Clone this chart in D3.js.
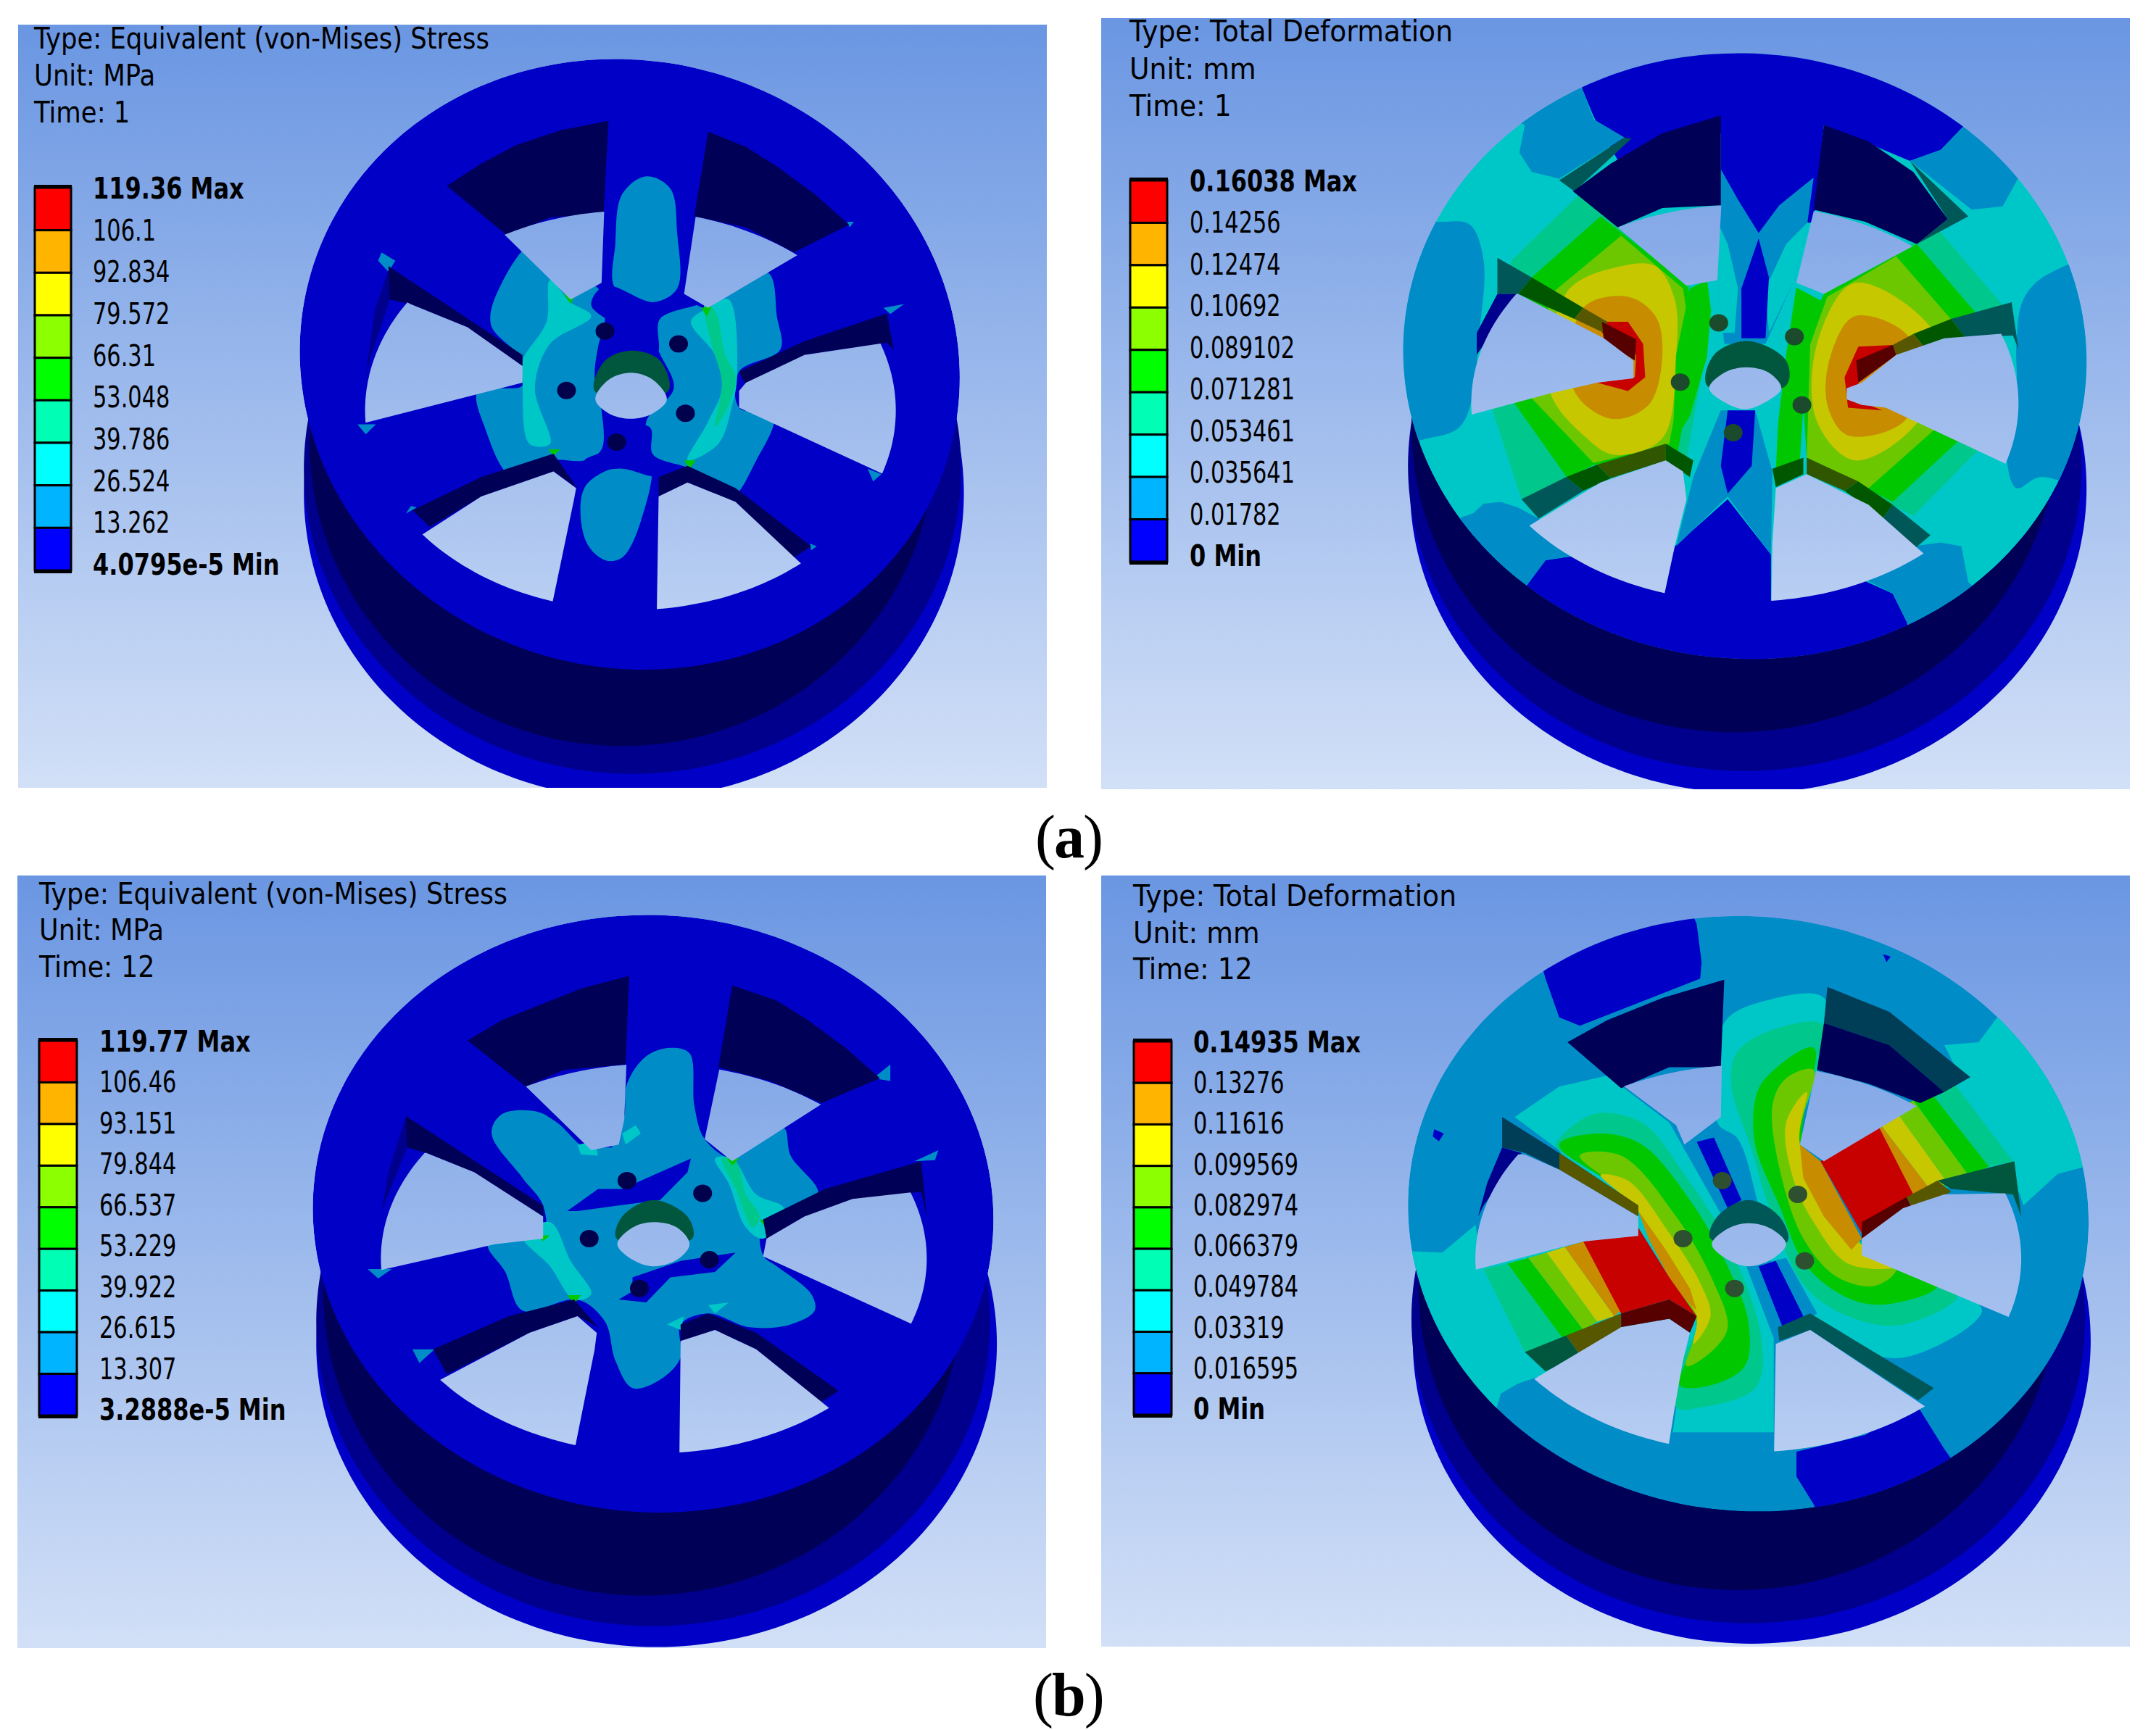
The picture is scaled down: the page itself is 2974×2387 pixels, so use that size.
<!DOCTYPE html>
<html>
<head>
<meta charset="UTF-8">
<title>Wheel stress and deformation</title>
<script src="https://cdnjs.cloudflare.com/ajax/libs/d3/7.8.5/d3.min.js"></script>
<style>
html, body { margin: 0; background: #fff; }
svg { display: block; }
text { font-family: "DejaVu Sans", sans-serif; fill: #000; }
</style>
</head>
<body>
<svg id="chart" width="2974" height="2387"></svg>
<script>
// legend colours, low to high
var bandColors = ['#0000ff', '#00b4ff', '#00ffff', '#00ffb4', '#00ff00', '#8cff00', '#ffff00', '#ffb400', '#ff0000'];

// legend labels per panel, top to bottom
var ticksStressA = ['119.36 Max', '106.1', '92.834', '79.572', '66.31', '53.048', '39.786', '26.524', '13.262', '4.0795e-5 Min'];
var ticksDeformA = ['0.16038 Max', '0.14256', '0.12474', '0.10692', '0.089102', '0.071281', '0.053461', '0.035641', '0.01782', '0 Min'];
var ticksStressB = ['119.77 Max', '106.46', '93.151', '79.844', '66.537', '53.229', '39.922', '26.615', '13.307', '3.2888e-5 Min'];
var ticksDeformB = ['0.14935 Max', '0.13276', '0.11616', '0.099569', '0.082974', '0.066379', '0.049784', '0.03319', '0.016595', '0 Min'];

var headStressA = ['Type: Equivalent (von-Mises) Stress', 'Unit: MPa', 'Time: 1'];
var headDeformA = ['Type: Total Deformation', 'Unit: mm', 'Time: 1'];
var headStressB = ['Type: Equivalent (von-Mises) Stress', 'Unit: MPa', 'Time: 12'];
var headDeformB = ['Type: Total Deformation', 'Unit: mm', 'Time: 12'];

// traced outlines, in 1568-square view units of each panel
// each layer: band index (or BG for see-through), shade, points, flag (1 smooth, 2 cut by the back rim)
var BG = -1, F = 0.78, W = 0.34, M = 0.55;

// barrel ellipses cx, cy, rx, ry: outer, lip, inner
var barrelStressA = [[922,890,480,550], [920,845,478,550], [905,795,455,550]];
var barrelDeformA = [[975,880,492,550], [970,840,490,550], [955,770,470,550]];
var barrelStressB = [[955,870,495,548], [950,830,490,550], [935,775,465,550]];
var barrelDeformB = [[980,865,493,547], [975,825,490,550], [960,765,465,550]];

// front face ellipse cx, cy, rx, ry, skew, base band
var faceStressA = [916,657,480,550,0.05,0];
var faceDeformA = [970,642,497,546,0.02,2];
var faceStressB = [950,635,495,540,0.02,0];
var faceDeformB = [975,635,495,538,0.03,1];

// back rim ellipse seen through the windows
var rimStressA = [917,740,386,360];
var rimDeformA = [970,727,398,358];
var rimStressB = [951,716,397,352];
var rimDeformB = [975,716,397,350];

var layersStressA = [
  // hub contour
  [1, F, [[775,440],[810,490],[870,520],[880,575],[870,625],[865,680],[875,740],[875,810],[850,830],[800,830],[745,860],[705,770],[695,705],[760,695],[760,650],[714,585],[730,510]], 1],
  [1, F, [[1090,480],[1120,495],[1130,570],[1135,630],[1075,670],[1075,735],[1125,750],[1100,830],[1060,900],[1000,850],[950,820],[940,760],[980,700],[955,620],[960,570],[1000,545],[1030,555]], 1],
  [1, F, [[940,318],[975,340],[985,420],[985,520],[950,545],[895,520],[895,440],[905,350]], 1],
  [1, F, [[900,840],[945,835],[932,940],[905,1005],[880,1010],[852,975],[850,880]], 1],
  [2, F, [[800,505],[830,545],[860,570],[800,620],[778,700],[800,800],[770,800],[760,690],[760,650],[795,580]], 1],
  [2, F, [[1030,555],[1060,540],[1072,680],[1065,730],[1045,800],[1000,830],[1030,760],[1050,700],[1040,640],[1005,580]], 1],
  [3, F, [[1025,550],[1040,560],[1055,640],[1070,680],[1060,730],[1040,770],[1050,690],[1035,620]], 1],
  [0, F, [[880,515],[950,545],[990,530],[1020,545],[960,575],[955,640],[890,630],[905,600],[860,550]], 1],
  [0, F, [[880,775],[945,770],[950,820],[1000,845],[958,860],[905,845],[850,850],[850,830],[880,810]], 1],
  [4, F, [[820,530],[835,535],[830,548]]],
  [4, F, [[1020,555],[1035,552],[1028,570]]],
  [4, F, [[798,810],[815,810],[805,822]]],
  [4, F, [[995,830],[1012,830],[1003,845]]],
  // spots at the spoke tips
  [1, F, [[555,455],[575,470],[565,490],[550,470]]],
  [1, F, [[520,765],[547,765],[532,783]]],
  [1, F, [[1285,555],[1315,548],[1295,566]]],
  [1, F, [[1262,845],[1282,855],[1270,868]]],
  [1, F, [[1232,400],[1242,400],[1236,410]]],
  [1, F, [[1178,980],[1188,985],[1180,992]]],
  [1, F, [[598,912],[606,915],[590,926]]],
  // walls and windows
  [0, W, [[650,335],[700,295],[750,262],[815,235],[885,218],[878,385],[800,392],[738,425]]],
  [BG, 1, [[700,382],[740,340],[880,340],[875,510],[830,540]], 2],
  [0, W, [[1030,237],[1085,265],[1130,300],[1185,350],[1235,405],[1155,455],[1085,410],[1010,390]]],
  [BG, 1, [[1018,340],[1150,340],[1190,438],[1030,555],[995,530]], 2],
  [0, W, [[1290,565],[1300,630],[1290,618],[1170,640],[1085,695],[1075,670],[1170,615]]],
  [BG, 1, [[1075,705],[1085,690],[1170,640],[1320,612],[1340,700],[1320,875],[1075,735]], 2],
  [0, W, [[1000,840],[1070,880],[1180,985],[1155,1005],[1070,905],[1000,870],[958,895],[958,860]]],
  [BG, 1, [[958,895],[1000,870],[1070,905],[1190,1045],[1100,1130],[955,1130]], 2],
  [0, W, [[600,920],[700,860],[805,818],[840,880],[805,850],[700,895],[625,950]]],
  [BG, 1, [[600,975],[700,895],[805,850],[838,880],[835,900],[798,1120],[650,1060]], 2],
  [0, M, [[567,480],[567,540],[540,640],[532,680],[545,560]]],
  [0, W, [[565,480],[760,640],[760,660],[680,590],[597,548],[567,540]]],
  [BG, 1, [[570,530],[597,548],[680,590],[760,660],[760,690],[538,760],[480,778],[480,600]], 2],
  // centre bore and hole
  [3, W, [[865,705],[880,650],[920,632],[960,650],[972,705]], 1],
  [BG, 1, [[866,720],[885,685],[918,672],[950,685],[970,720],[950,745],[918,755],[885,745]], 1]
];
var boltsStressA = [[880,597],[987,620],[997,745],[897,797],[824,704]];

var layersDeformA = [
  // outer caps
  [0, F, [[735,165],[700,60],[975,40],[1250,100],[1290,225],[1255,270],[1210,290],[1085,225],[1070,400],[990,420],[935,350],[935,240],[850,270],[790,300],[750,210]]],
  [0, F, [[650,1060],[680,1010],[735,1000],[850,1065],[868,985],[945,900],[1008,1000],[1008,1083],[1140,1045],[1185,1070],[1205,1120],[1240,1240],[960,1250],[650,1180]]],
  [1, F, [[700,100],[735,165],[750,215],[795,248],[700,322],[660,310],[642,275],[650,225],[600,200]]],
  [1, F, [[1290,225],[1255,270],[1210,290],[1300,378],[1345,372],[1368,320],[1440,280],[1340,150]]],
  [1, F, [[420,800],[510,790],[555,770],[575,710],[582,620],[590,470],[570,405],[530,400],[440,420]], 1],
  [1, F, [[1540,460],[1410,495],[1375,540],[1365,620],[1365,700],[1350,810],[1365,880],[1400,860],[1540,900]], 1],
  [1, F, [[575,925],[590,908],[615,905],[640,915],[670,935],[730,1000],[680,1010],[650,1060],[560,1090],[520,950]]],
  [1, F, [[1145,1045],[1180,1005],[1215,985],[1255,978],[1285,985],[1295,1050],[1380,1130],[1240,1200],[1205,1120],[1185,1070]]],
  // hub base
  [2, F, [[890,515],[1085,540],[1060,830],[885,830]]],
  // left hot spot, nested
  [3, F, [[630,470],[730,350],[890,515],[915,620],[885,830],[720,860],[645,900],[603,740]]],
  [4, F, [[660,500],[760,390],[885,510],[905,600],[870,830],[750,838],[712,862],[635,727]]],
  [5, F, [[688,530],[790,425],[880,520],[890,600],[860,800],[750,835],[660,718]]],
  [6, F, [[712,525],[790,480],[840,480],[868,540],[870,640],[850,790],[780,820],[740,790],[685,700]], 1],
  [7, F, [[735,555],[800,535],[840,570],[850,640],[830,730],[775,755],[720,700]], 1],
  [8, F, [[762,580],[800,580],[822,620],[825,680],[800,705],[755,690],[810,680],[812,640],[762,600]]],
  // right hot spot, nested
  [3, F, [[1250,412],[1345,550],[1310,810],[1215,930],[1060,830],[1050,620],[1085,530]]],
  [4, F, [[1220,440],[1310,570],[1285,790],[1185,905],[1060,825],[1050,620],[1085,530]]],
  [5, F, [[1190,462],[1280,590],[1250,770],[1150,880],[1060,825],[1065,620],[1090,535]]],
  [6, F, [[1130,510],[1250,610],[1225,755],[1130,830],[1075,760],[1075,620]], 1],
  [7, F, [[1130,570],[1210,610],[1205,755],[1120,785],[1090,730],[1095,640]], 1],
  [8, F, [[1135,625],[1185,622],[1190,640],[1135,690],[1140,725],[1170,740],[1120,735],[1115,680]]],
  // hub bands and the blue cross
  [4, F, [[890,520],[915,505],[925,600],[890,750],[865,800],[870,640]]],
  [4, F, [[1040,515],[1085,545],[1060,640],[1050,830],[1015,850],[1020,720]]],
  [2, F, [[925,500],[965,510],[985,620],[930,640],[900,750],[890,830],[885,860],[935,740],[915,640]]],
  [2, F, [[1000,505],[1045,515],[1030,640],[1010,850],[995,740],[985,620]]],
  [1, F, [[935,305],[960,360],[990,420],[1020,370],[1070,320],[1060,410],[1040,510],[1000,620],[940,620],[930,500]]],
  [1, F, [[870,985],[945,895],[1008,1000],[1010,850],[985,740],[935,740],[895,860]]],
  [2, F, [[930,400],[945,440],[960,520],[955,600],[938,600],[930,500]]],
  [2, F, [[1062,400],[1040,510],[1005,600],[1000,520],[1030,440]]],
  [0, F, [[990,430],[1005,500],[1000,610],[965,610],[965,520]]],
  [0, F, [[945,890],[980,840],[985,740],[945,740],[935,840]]],
  // walls and windows
  [2, W, [[700,325],[795,248],[805,250],[722,345]]],
  [0, W, [[720,345],[775,295],[850,240],[935,208],[935,370],[850,375],[785,410]]],
  [BG, 1, [[745,368],[780,340],[937,340],[930,505],[885,515]], 2],
  [2, W, [[1210,290],[1295,390],[1220,440],[1265,395]]],
  [0, W, [[1085,225],[1150,255],[1215,310],[1265,395],[1220,440],[1145,400],[1070,378]]],
  [BG, 1, [[1078,340],[1230,340],[1265,410],[1085,530],[1045,510]], 2],
  [2, W, [[610,465],[660,500],[640,530],[610,530]]],
  [4, W, [[660,500],[735,555],[722,575],[640,530]]],
  [6, W, [[735,555],[770,580],[765,600],[722,575]]],
  [8, W, [[762,580],[812,612],[810,650],[765,615]]],
  [0, M, [[610,530],[640,530],[580,640],[580,600]]],
  [BG, 1, [[580,520],[640,530],[765,610],[808,650],[808,682],[755,690],[685,710],[520,765],[530,560]], 2],
  [2, W, [[645,900],[710,860],[735,885],[670,935]]],
  [4, W, [[710,860],[755,838],[775,862],[735,885]]],
  [5, W, [[755,838],[855,800],[855,830],[775,862]]],
  [4, W, [[855,800],[895,830],[890,860],[855,830]]],
  [BG, 1, [[640,960],[760,870],[855,830],[880,850],[885,900],[868,985],[848,1100],[700,1060]], 2],
  [2, W, [[1358,545],[1368,630],[1360,605],[1290,608],[1270,575]]],
  [4, W, [[1270,575],[1290,608],[1230,625],[1215,602]]],
  [6, W, [[1215,602],[1230,625],[1190,640],[1185,622]]],
  [8, W, [[1185,622],[1190,640],[1135,690],[1132,650]]],
  [BG, 1, [[1140,690],[1190,640],[1260,610],[1390,597],[1400,720],[1370,848],[1175,735],[1140,730],[1118,720],[1118,700]], 2],
  [2, W, [[1240,965],[1218,988],[1170,935],[1185,910]]],
  [4, W, [[1185,910],[1170,935],[1115,885],[1135,868]]],
  [5, W, [[1135,868],[1115,885],[1060,855],[1060,825]]],
  [4, W, [[1010,845],[1055,825],[1055,855],[1015,878]]],
  [BG, 1, [[1015,880],[1060,855],[1150,910],[1250,1020],[1150,1120],[1008,1120],[1010,980]], 2],
  // centre bore and hole
  [3, W, [[915,695],[925,640],[975,615],[1030,650],[1030,695]], 1],
  [BG, 1, [[918,700],[940,672],[972,662],[1005,672],[1023,700],[1000,725],[970,738],[940,725]], 1]
];
var boltsDeformA = [[932,582],[1042,607],[1053,730],[953,780],[876,689]];

var layersStressB = [
  // hub contour
  [1, F, [[975,335],[1003,345],[1010,440],[1025,500],[1065,535],[1100,510],[1140,480],[1150,530],[1190,600],[1110,650],[1110,710],[1130,730],[1180,780],[1185,810],[1150,835],[1090,840],[1030,815],[990,835],[990,895],[960,935],[920,950],[895,900],[880,830],[840,790],[760,810],[735,740],[710,690],[790,672],[790,620],[760,570],[715,490],[730,455],[780,450],[810,470],[860,520],[905,470],[912,400],[940,350]], 1],
  [0, F, [[825,630],[870,590],[905,590],[1005,535],[1000,560],[960,610],[900,620],[840,630]]],
  [0, F, [[920,750],[990,720],[1070,705],[1040,740],[975,750],[940,795],[900,790],[920,775]]],
  [2, F, [[1040,535],[1065,535],[1100,600],[1140,625],[1110,680],[1085,660],[1060,580]], 1],
  [2, F, [[760,675],[800,650],[830,720],[860,780],[835,790],[800,730]], 1],
  [3, F, [[1050,535],[1070,540],[1085,600],[1105,640],[1095,660],[1070,590]], 1],
  [2, F, [[905,490],[925,475],[932,490],[910,510]]],
  [2, F, [[840,510],[865,505],[870,530],[845,528]]],
  [2, F, [[970,835],[995,820],[990,845]]],
  [2, F, [[1030,800],[1060,795],[1040,815]]],
  [0, F, [[875,505],[895,497],[890,515],[875,515]]],
  [4, F, [[1058,535],[1075,535],[1065,548]]],
  [4, F, [[1105,645],[1120,648],[1112,658]]],
  [4, F, [[780,674],[800,674],[790,684]]],
  [4, F, [[825,782],[845,782],[835,798]]],
  // spots at the spoke tips
  [1, F, [[1270,390],[1295,365],[1295,395]]],
  [1, F, [[1330,540],[1365,520],[1360,538]]],
  [1, F, [[535,735],[570,735],[550,752]]],
  [1, F, [[600,880],[632,880],[610,905]]],
  // walls and windows
  [0, W, [[680,322],[730,285],[780,260],[845,228],[915,205],[910,365],[820,375],[765,405]]],
  [BG, 1, [[732,365],[770,340],[912,340],[908,465],[900,510],[860,520]], 2],
  [0, W, [[1065,222],[1130,250],[1175,285],[1230,335],[1280,390],[1195,435],[1120,395],[1045,370]]],
  [BG, 1, [[1052,340],[1200,340],[1235,405],[1065,540],[1025,500]], 2],
  [0, W, [[1340,540],[1348,640],[1340,595],[1240,610],[1170,640],[1115,680],[1110,645],[1200,590]]],
  [BG, 1, [[1115,680],[1170,640],[1240,608],[1370,590],[1380,720],[1340,842],[1110,712]], 2],
  [0, W, [[1030,815],[1100,850],[1220,955],[1195,975],[1100,880],[1040,845],[990,865],[990,835]]],
  [BG, 1, [[990,865],[1040,845],[1100,880],[1225,1005],[1120,1100],[988,1100]], 2],
  [0, W, [[630,880],[740,820],[835,790],[870,840],[840,820],[770,850],[650,925]]],
  [BG, 1, [[625,945],[770,850],[840,820],[868,850],[865,880],[832,1085],[680,1030]], 2],
  [0, M, [[590,460],[592,515],[555,630],[565,560]]],
  [0, W, [[590,458],[790,620],[790,640],[690,560],[620,525],[592,515]]],
  [BG, 1, [[575,520],[620,525],[690,560],[790,640],[790,680],[720,690],[500,752],[510,580]], 2],
  // centre bore and hole
  [3, W, [[897,680],[905,640],[950,610],[1000,640],[1007,680]], 1],
  [BG, 1, [[898,690],[920,660],[950,650],[985,660],[1003,690],[985,718],[950,730],[920,718]], 1]
];
var boltsStressB = [[912,575],[1022,598],[1032,718],[930,770],[857,680]];

var layersDeformB = [
  [0, F, [[680,210],[660,120],[880,50],[900,112],[907,180],[905,210],[730,295],[700,280]]],
  [0, F, [[1045,1065],[1145,1035],[1220,980],[1260,1060],[1300,1130],[1100,1240],[1070,1160],[1045,1110]]],
  [2, F, [[430,700],[530,705],[578,655],[590,735],[650,885],[680,925],[640,942],[615,960],[608,990],[480,1000]]],
  [2, F, [[1340,275],[1310,325],[1260,330],[1370,600],[1375,620],[1425,563],[1465,550],[1560,540],[1500,280]]],
  // spoke bases under the strips
  [2, F, [[580,700],[650,640],[760,680],[800,860],[680,925],[640,940]]],
  [2, F, [[1300,385],[1370,545],[1210,610],[1150,470]]],
  // left S bands
  [2, F, [[635,460],[700,405],[770,385],[860,470],[960,690],[1012,860],[1012,1030],[865,1030],[880,900],[800,760],[700,520]]],
  [3, F, [[695,510],[750,455],[820,470],[880,560],[950,700],[995,870],[985,950],[905,985],[870,985],[880,900],[900,830],[860,750],[815,620],[700,520]], 1],
  [4, F, [[700,510],[760,490],[820,510],[890,610],[945,730],[975,830],[970,910],[920,945],[875,945],[885,900],[900,830],[860,750],[815,620]], 1],
  [5, F, [[730,530],[790,530],[870,640],[925,760],[945,840],[925,880],[885,910],[900,830],[860,750],[815,620]], 1],
  [6, F, [[760,565],[800,575],[860,670],[905,760],[920,820],[895,870],[900,820],[860,750],[815,630]], 1],
  [7, F, [[815,630],[855,700],[890,770],[900,810],[868,770],[830,680]]],
  // upper S bands
  [2, F, [[940,290],[1000,250],[1085,245],[1075,380],[1050,510],[1140,690],[1250,760],[1315,810],[1200,895],[1100,860],[1020,760],[990,620],[960,500],[930,470]], 1],
  [3, F, [[950,400],[960,340],[1030,295],[1085,295],[1050,510],[1135,680],[1280,780],[1200,835],[1130,825],[1060,770],[1010,640],[980,520]], 1],
  [4, F, [[985,430],[1000,390],[1070,335],[1055,510],[1135,690],[1250,765],[1180,798],[1125,790],[1060,730],[1020,620],[985,510]], 1],
  [5, F, [[1010,440],[1030,390],[1070,375],[1050,510],[1130,685],[1190,735],[1160,765],[1105,750],[1060,690],[1030,600]], 1],
  [6, F, [[1030,470],[1060,415],[1050,510],[1130,680],[1190,730],[1120,725],[1070,650],[1040,570]], 1],
  [7, F, [[1050,510],[1080,540],[1140,680],[1125,700],[1085,640],[1055,570]]],
  // lower-left spoke strips
  [3, F, [[590,735],[625,725],[705,860],[650,885]]],
  [4, F, [[625,725],[655,715],[735,845],[705,860]]],
  [5, F, [[655,715],[682,705],[755,830],[735,845]]],
  [6, F, [[682,705],[708,695],[780,820],[755,830]]],
  [7, F, [[708,695],[735,685],[790,810],[780,820]]],
  [8, F, [[735,685],[815,660],[860,750],[900,820],[860,790],[790,815]]],
  // upper-right spoke strips
  [3, F, [[1270,392],[1360,540],[1325,550],[1238,412]]],
  [4, F, [[1238,412],[1325,550],[1295,565],[1215,430]]],
  [5, F, [[1215,430],[1295,565],[1265,580],[1190,450]]],
  [6, F, [[1190,450],[1265,580],[1240,592],[1165,470]]],
  [7, F, [[1165,470],[1240,592],[1215,602],[1135,490]]],
  [8, F, [[1165,478],[1215,600],[1140,670],[1080,540]]],
  // hub strips
  [1, F, [[880,515],[935,490],[985,620],[950,640]]],
  [0, F, [[900,505],[925,497],[965,610],[945,625]]],
  [1, F, [[975,730],[1030,715],[1075,815],[1020,860]]],
  [0, F, [[990,730],[1015,720],[1055,820],[1025,840]]],
  [0, F, [[518,482],[532,490],[525,504],[516,495]]],
  [0, F, [[1171,166],[1182,170],[1176,180]]],
  // walls and windows
  [0, W, [[712,325],[770,285],[850,245],[940,212],[935,370],[860,370],[790,408]]],
  [BG, 1, [[755,368],[790,340],[937,340],[935,460],[882,510],[870,475]], 2],
  [1, W, [[1090,225],[1180,270],[1298,388],[1260,415],[1180,330],[1085,290]]],
  [0, W, [[1085,290],[1180,330],[1260,415],[1225,435],[1150,400],[1075,375]]],
  [BG, 1, [[1080,340],[1240,340],[1268,405],[1085,540],[1050,510]], 2],
  [3, W, [[1362,540],[1372,640],[1360,600],[1270,590],[1250,575]]],
  [6, W, [[1250,575],[1270,595],[1215,630],[1205,605]]],
  [8, W, [[1205,605],[1215,630],[1140,680],[1140,650]]],
  [BG, 1, [[1140,680],[1200,625],[1260,600],[1395,597],[1405,720],[1370,830],[1140,710]], 2],
  [2, W, [[1065,815],[1245,950],[1222,972],[1065,845],[1020,865],[1018,840]]],
  [BG, 1, [[1015,870],[1065,845],[1250,998],[1140,1100],[1012,1100]], 2],
  [3, W, [[650,885],[710,855],[730,890],[680,920]]],
  [6, W, [[710,855],[790,815],[790,840],[730,890]]],
  [8, W, [[790,815],[860,790],[900,820],[890,850],[860,825],[790,840]]],
  [BG, 1, [[655,940],[790,840],[860,825],[890,850],[880,900],[868,985],[855,1085],[700,1020]], 2],
  [1, W, [[617,460],[700,525],[815,620],[815,640],[700,555],[650,525],[617,515]]],
  [6, W, [[700,525],[815,620],[815,640],[700,555]]],
  [0, M, [[617,515],[645,525],[590,620],[582,640],[595,580]]],
  [BG, 1, [[580,525],[650,528],[700,555],[815,640],[815,675],[735,685],[520,755],[530,600]], 2],
  // centre bore and hole
  [2, W, [[920,680],[930,640],[975,610],[1020,640],[1032,685]], 1],
  [BG, 1, [[922,690],[945,662],[975,652],[1008,662],[1030,690],[1008,718],[975,730],[945,718]], 1]
];
var boltsDeformB = [[937,575],[1047,600],[1057,720],[955,770],[880,680]];

var panels = [
  { view: [0, 0, 1487, 1200], box: [25, 34, 1444, 1087], barrel: barrelStressA, face: faceStressA, rim: rimStressA, layers: layersStressA, bolts: boltsStressA, bolt: '#00004c',
    head: headStressA, headX: 47, headY: [67, 118, 169], ticks: ticksStressA, bar: [48, 259, 98, 787], labelX: 128, headLen: 628 },
  { view: [1487, 0, 1487, 1200], box: [1519, 25, 2938, 1089], barrel: barrelDeformA, face: faceDeformA, rim: rimDeformA, layers: layersDeformA, bolts: boltsDeformA, bolt: '#1c4a2c',
    head: headDeformA, headX: 1558, headY: [57, 109, 160], ticks: ticksDeformA, bar: [1559, 249, 1610, 775], labelX: 1641, headLen: 446 },
  { view: [0, 1190, 1487, 1197], box: [24, 1208, 1443, 2274], barrel: barrelStressB, face: faceStressB, rim: rimStressB, layers: layersStressB, bolts: boltsStressB, bolt: '#00004c',
    head: headStressB, headX: 54, headY: [1247, 1297, 1348], ticks: ticksStressB, bar: [54, 1436, 106, 1953], labelX: 137, headLen: 646 },
  { view: [1487, 1190, 1487, 1197], box: [1519, 1208, 2938, 2272], barrel: barrelDeformB, face: faceDeformB, rim: rimDeformB, layers: layersDeformB, bolts: boltsDeformB, bolt: '#2c5030',
    head: headDeformB, headX: 1563, headY: [1250, 1301, 1351], ticks: ticksDeformB, bar: [1564, 1437, 1616, 1952], labelX: 1646, headLen: 446 }
];

var svg = d3.select('#chart');
var defs = svg.append('defs');
var band = d3.scaleOrdinal().domain(d3.range(9)).range(bandColors);

function shade(c, k) {
  var r = d3.rgb(c);
  return d3.rgb(r.r * k, r.g * k, r.b * k).formatHex();
}

// squeeze the wide font to the narrower widths of the original lettering
function fit(sel, factor) {
  sel.each(function() {
    var n = this.getComputedTextLength();
    d3.select(this).attr('textLength', n * factor).attr('lengthAdjust', 'spacingAndGlyphs');
  });
}

function ring(e) {
  return d3.range(0, 360, 6).map(function(a) {
    var t = a * Math.PI / 180;
    return [e[0] + e[2] * Math.cos(t), e[1] + e[3] * Math.sin(t) + (e[4] || 0) * e[2] * Math.cos(t)];
  });
}

panels.forEach(function(p, i) {
  var b = p.box;
  var gradId = 'bg' + i, clipId = 'clip' + i, faceId = 'face' + i, rimId = 'rim' + i;
  var x = d3.scaleLinear().domain([0, 1568]).range([p.view[0], p.view[0] + p.view[2]]);
  var y = d3.scaleLinear().domain([0, 1568]).range([p.view[1], p.view[1] + p.view[3]]);
  var straight = d3.line().x(function(d) { return x(d[0]); }).y(function(d) { return y(d[1]); }).curve(d3.curveLinearClosed);
  var smooth = d3.line().x(function(d) { return x(d[0]); }).y(function(d) { return y(d[1]); }).curve(d3.curveCatmullRomClosed);

  var grad = defs.append('linearGradient').attr('id', gradId)
    .attr('gradientUnits', 'userSpaceOnUse')
    .attr('x1', 0).attr('x2', 0).attr('y1', b[1]).attr('y2', b[3]);
  grad.append('stop').attr('offset', 0).attr('stop-color', '#6a96e2');
  grad.append('stop').attr('offset', 1).attr('stop-color', '#d2e0f7');
  defs.append('clipPath').attr('id', clipId).append('rect')
    .attr('x', b[0]).attr('y', b[1]).attr('width', b[2] - b[0]).attr('height', b[3] - b[1]);
  defs.append('clipPath').attr('id', faceId).append('path').attr('d', smooth(ring(p.face)));
  defs.append('clipPath').attr('id', rimId).append('path').attr('d', smooth(ring(p.rim)));

  var g = svg.append('g');
  g.append('rect').attr('x', b[0]).attr('y', b[1]).attr('width', b[2] - b[0]).attr('height', b[3] - b[1])
    .attr('fill', 'url(#' + gradId + ')');

  var wheel = g.append('g').attr('clip-path', 'url(#' + clipId + ')');
  wheel.selectAll('path.barrel').data(p.barrel).join('path').attr('class', 'barrel')
    .attr('d', function(d) { return smooth(ring(d)); })
    .attr('fill', function(d, j) { return shade(band(0), [F, M, W][j]); });

  var front = wheel.append('g').attr('clip-path', 'url(#' + faceId + ')');
  front.append('path').attr('d', smooth(ring(p.face))).attr('fill', shade(band(p.face[5]), F));
  front.selectAll('path.zone').data(p.layers).join('path').attr('class', 'zone')
    .attr('d', function(d) { return d[3] === 1 ? smooth(d[2]) : straight(d[2]); })
    .attr('clip-path', function(d) { return d[3] === 2 ? 'url(#' + rimId + ')' : null; })
    .attr('fill', function(d) { return d[0] === BG ? 'url(#' + gradId + ')' : shade(band(d[0]), d[1]); });
  front.selectAll('ellipse').data(p.bolts).join('ellipse')
    .attr('cx', function(d) { return x(d[0]); }).attr('cy', function(d) { return y(d[1]); })
    .attr('rx', 13).attr('ry', 12).attr('fill', p.bolt);

  // header lines, all at the scale that makes the first line fit
  var heads = g.selectAll('text.head').data(p.head).join('text').attr('class', 'head')
    .attr('x', p.headX).attr('y', function(d, j) { return p.headY[j]; })
    .attr('font-size', 40).text(function(d) { return d; });
  var natural = heads.node().getComputedTextLength();
  heads.call(fit, p.headLen / natural);

  // legend bar
  var bar = p.bar;
  var rows = d3.scaleBand().domain(d3.range(9)).range([bar[1], bar[3]]);
  g.selectAll('rect.seg').data(d3.range(9)).join('rect').attr('class', 'seg')
    .attr('x', bar[0]).attr('width', bar[2] - bar[0])
    .attr('y', function(d) { return rows(d); }).attr('height', rows.bandwidth())
    .attr('fill', function(d) { return band(8 - d); })
    .attr('stroke', '#000').attr('stroke-width', 3);
  g.append('rect').attr('x', bar[0] - 1).attr('width', bar[2] - bar[0] + 2).attr('y', bar[1] - 4).attr('height', 5).attr('fill', '#000');
  g.append('rect').attr('x', bar[0] - 1).attr('width', bar[2] - bar[0] + 2).attr('y', bar[3] - 1).attr('height', 5).attr('fill', '#000');

  // legend labels
  var tick = d3.scalePoint().domain(p.ticks).range([bar[1] + 15, bar[3] + 6]);
  g.selectAll('text.tick').data(p.ticks).join('text').attr('class', 'tick')
    .attr('x', p.labelX).attr('y', function(d) { return tick(d); })
    .attr('font-size', 40)
    .attr('font-weight', function(d, j) { return j === 0 || j === p.ticks.length - 1 ? 700 : 400; })
    .text(function(d) { return d; })
    .each(function(d, j) {
      var bold = j === 0 || j === p.ticks.length - 1;
      d3.select(this).call(fit, bold ? 0.8 : 0.76);
    });
});

// sub-figure captions
var captions = [['a', 1428, 1183], ['b', 1425, 2367]];
captions.forEach(function(c) {
  var t = svg.append('text').attr('x', c[1]).attr('y', c[2])
    .style('font-family', '"Liberation Serif", serif').attr('font-size', 84).attr('letter-spacing', -2);
  t.append('tspan').text('(');
  t.append('tspan').attr('font-weight', 700).text(c[0]);
  t.append('tspan').text(')');
});
</script>
</body>
</html>
